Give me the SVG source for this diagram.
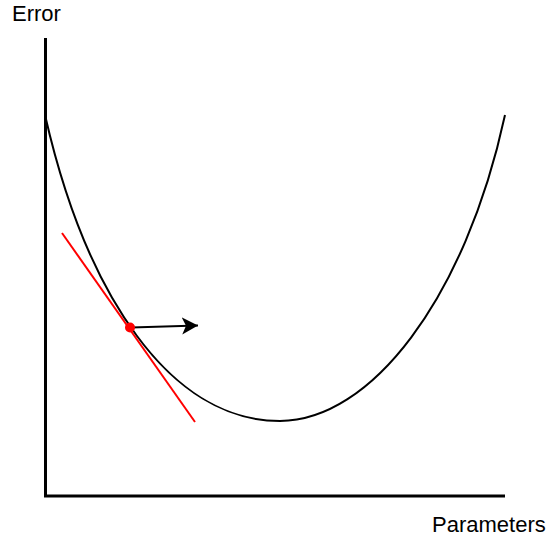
<svg xmlns="http://www.w3.org/2000/svg" width="551" height="539" viewBox="0 0 551 539">
<style>
.lbl{font-family:"Liberation Sans",Arial,sans-serif;font-size:22px;fill:#000}
.axis{fill:none;stroke:#000;stroke-width:3;stroke-linejoin:miter;stroke-linecap:butt}
.curve{fill:none;stroke:#000;stroke-width:2}
.tangent{stroke:#f00;stroke-width:2}
.arrow{stroke:#000;stroke-width:2;fill:none}
</style>
<defs>
<marker id="ah" markerUnits="userSpaceOnUse" markerWidth="20" markerHeight="20" refX="16" refY="8.5" orient="auto">
<path d="M0,0 L16,8.5 L0,17 L4,8.5 Z" fill="#000"/>
</marker>
</defs>
<rect width="551" height="539" fill="#fff"/>
<g id="axes">
<path class="axis" d="M45.5,38 V496 H505"/>
</g>
<g id="labels">
<text id="error-label" class="lbl" x="12" y="21">Error</text>
<text id="parameters-label" class="lbl" x="432" y="532">Parameters</text>
</g>
<g id="error-curve">
<path class="curve" d="M45,115 C86,295 170,421 280,421 C370,421 465,300 505,115"/>
</g>
<g id="connectors">
<line class="tangent" x1="62" y1="233" x2="195" y2="422"/>
<line class="arrow" x1="131" y1="327.5" x2="198" y2="325.5" marker-end="url(#ah)"/>
</g>
<g id="point">
<circle cx="130" cy="327.5" r="5" fill="#f00"/>
</g>
</svg>
